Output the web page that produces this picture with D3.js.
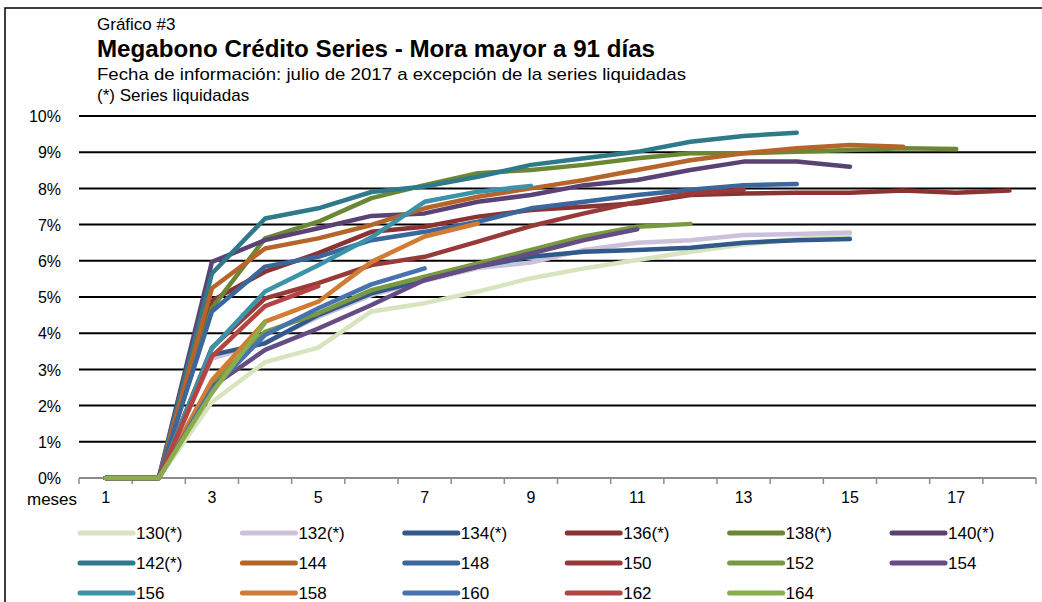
<!DOCTYPE html>
<html>
<head>
<meta charset="utf-8">
<script src="https://cdn.jsdelivr.net/npm/d3@7"></script>
<style>
  body { margin: 0; background: #fff; }
  text { font-family: "Liberation Sans", Arial, sans-serif; fill: #000; }
</style>
</head>
<body>
<div id="chart"></div>
<script>
// months on the x axis
const months = d3.range(1, 19);
const tickLabels = [1, 3, 5, 7, 9, 11, 13, 15, 17];
const yTicks = [0, 1, 2, 3, 4, 5, 6, 7, 8, 9, 10];

const seriesNames = ["130(*)", "132(*)", "134(*)", "136(*)", "138(*)", "140(*)",
  "142(*)", "144", "148", "150", "152", "154", "156", "158", "160", "162", "164"];

const seriesColors = ["#D7E4BD", "#CCC1DA", "#31598A", "#8B3232", "#6B8735", "#5B4275",
  "#2E7A8A", "#B5652A", "#3A679C", "#983A38", "#78993F", "#654C85",
  "#3A93A8", "#D27B33", "#4573B0", "#B54341", "#8BAD4C"];

// % values by month, starting at month 1
const s130 = [0, 0, 2.1, 3.2, 3.6, 4.6, 4.83, 5.15, 5.52, 5.79, 6.02, 6.25, 6.45, 6.6, 6.7];
const s132 = [0, 0, 3.3, 3.75, 4.45, 5.05, 5.45, 5.8, 5.95, 6.3, 6.5, 6.57, 6.71, 6.74, 6.78];
const s134 = [0, 0, 3.4, 3.72, 4.5, 5.1, 5.47, 5.84, 6.11, 6.25, 6.3, 6.36, 6.5, 6.57, 6.6];
const s136 = [0, 0, 4.9, 5.7, 6.21, 6.8, 6.94, 7.22, 7.4, 7.49, 7.59, 7.82, 7.86, 7.88, 7.88, 7.94, 7.88, 7.94];
const s138 = [0, 0, 4.69, 6.62, 7.08, 7.73, 8.09, 8.42, 8.51, 8.65, 8.83, 8.97, 8.97, 9.01, 9.06, 9.11, 9.09];
const s140 = [0, 0, 5.97, 6.57, 6.9, 7.24, 7.31, 7.63, 7.82, 8.09, 8.23, 8.51, 8.74, 8.74, 8.6];
const s142 = [0, 0, 5.65, 7.17, 7.45, 7.9, 8.05, 8.32, 8.65, 8.83, 9.01, 9.29, 9.45, 9.54];
const s144 = [0, 0, 5.24, 6.34, 6.62, 6.99, 7.45, 7.77, 8.0, 8.23, 8.51, 8.78, 8.97, 9.11, 9.2, 9.15];
const s148 = [0, 0, 4.6, 5.84, 6.11, 6.57, 6.8, 7.08, 7.45, 7.63, 7.82, 7.96, 8.09, 8.12];
const s150 = [0, 0, 3.6, 4.96, 5.38, 5.88, 6.11, 6.53, 6.96, 7.31, 7.63, 7.86, 7.96];
const s152 = [0, 0, 2.6, 4.04, 4.55, 5.19, 5.56, 5.93, 6.3, 6.67, 6.94, 7.02];
const s154 = [0, 0, 2.52, 3.54, 4.13, 4.78, 5.47, 5.84, 6.2, 6.57, 6.87];
const s156 = [0, 0, 3.58, 5.15, 5.88, 6.65, 7.63, 7.91, 8.07];
const s158 = [0, 0, 2.7, 4.32, 4.87, 5.97, 6.67, 7.03];
const s160 = [0, 0, 2.45, 3.95, 4.69, 5.35, 5.79];
const s162 = [0, 0, 3.35, 4.75, 5.3];
const s164 = [0, 0, 2.35, 4.29];

const seriesValues = [s130, s132, s134, s136, s138, s140, s142, s144, s148,
  s150, s152, s154, s156, s158, s160, s162, s164];

const W = 1042, H = 602;
const plot = { left: 79, right: 1036, top: 116, bottom: 478 };

const svg = d3.select("#chart").append("svg")
  .attr("width", W)
  .attr("height", H);

// frame
svg.append("rect")
  .attr("x", 5).attr("y", 8)
  .attr("width", W + 10).attr("height", H + 10)
  .attr("fill", "none")
  .attr("stroke", "#000")
  .attr("stroke-width", 1.5);

// titles
svg.append("text").attr("x", 97).attr("y", 30)
  .style("font-size", "17px").text("Gráfico #3");
svg.append("text").attr("x", 97).attr("y", 57)
  .style("font-size", "23px").style("font-weight", "bold")
  .attr("textLength", 558).attr("lengthAdjust", "spacingAndGlyphs")
  .text("Megabono Crédito Series - Mora mayor a 91 días");
svg.append("text").attr("x", 97).attr("y", 80)
  .style("font-size", "17px")
  .attr("textLength", 589).attr("lengthAdjust", "spacingAndGlyphs")
  .text("Fecha de información: julio de 2017 a excepción de la series liquidadas");
svg.append("text").attr("x", 97).attr("y", 101)
  .style("font-size", "17px").text("(*) Series liquidadas");

// scales
const x = d3.scaleBand().domain(months).range([plot.left, plot.right]).paddingInner(0).paddingOuter(0);
const y = d3.scaleLinear().domain([0, 10]).range([plot.bottom, plot.top]);
const cx = m => x(m) + x.bandwidth() / 2;

// gridlines
svg.append("g")
  .selectAll("line")
  .data(yTicks.filter(d => d > 0))
  .join("line")
  .attr("x1", plot.left).attr("x2", plot.right)
  .attr("y1", d => y(d)).attr("y2", d => y(d))
  .attr("stroke", "#000")
  .attr("stroke-width", 2);

// y axis labels
const yAxis = svg.append("g")
  .attr("transform", `translate(${plot.left - 15},0)`)
  .call(d3.axisLeft(y).tickValues(yTicks).tickSize(0).tickFormat(d => d + "%"));
yAxis.select(".domain").remove();
yAxis.selectAll("text").style("font-size", "16px").attr("dx", 0).attr("dy", "0.35em");

// x axis: line and tick marks at band boundaries
svg.append("line")
  .attr("x1", plot.left).attr("x2", plot.right)
  .attr("y1", plot.bottom).attr("y2", plot.bottom)
  .attr("stroke", "#8c8c8c").attr("stroke-width", 2);

svg.append("g")
  .selectAll("line")
  .data(months.concat([19]))
  .join("line")
  .attr("x1", d => d <= 18 ? x(d) : plot.right)
  .attr("x2", d => d <= 18 ? x(d) : plot.right)
  .attr("y1", plot.bottom).attr("y2", plot.bottom + 6)
  .attr("stroke", "#8c8c8c").attr("stroke-width", 1.5);

const xAxis = svg.append("g")
  .attr("transform", `translate(0,${plot.bottom + 11})`)
  .call(d3.axisBottom(x).tickValues(tickLabels).tickSize(0));
xAxis.select(".domain").remove();
xAxis.selectAll("text").style("font-size", "16px");

svg.append("text").attr("x", 27).attr("y", 505)
  .style("font-size", "17px").text("meses");

// lines
const line = d3.line()
  .x((d, i) => cx(months[i]))
  .y(d => y(d));

svg.append("g")
  .selectAll("path")
  .data(seriesValues)
  .join("path")
  .attr("d", d => line(d))
  .attr("fill", "none")
  .attr("stroke", (d, i) => seriesColors[i])
  .attr("stroke-width", 4.5)
  .attr("stroke-linecap", "round")
  .attr("stroke-linejoin", "round");

// legend
const legend = svg.append("g");
legend.selectAll("g")
  .data(seriesNames)
  .join("g")
  .attr("transform", (d, i) => `translate(${80 + (i % 6) * 162.4}, ${533 + Math.floor(i / 6) * 30})`)
  .each(function (d, i) {
    const g = d3.select(this);
    g.append("line")
      .attr("x1", 0).attr("x2", 53)
      .attr("y1", 0).attr("y2", 0)
      .attr("stroke", seriesColors[i])
      .attr("stroke-width", 5)
      .attr("stroke-linecap", "round");
    g.append("text")
      .attr("x", 56).attr("y", 6)
      .style("font-size", "17px")
      .text(d);
  });
</script>
</body>
</html>
